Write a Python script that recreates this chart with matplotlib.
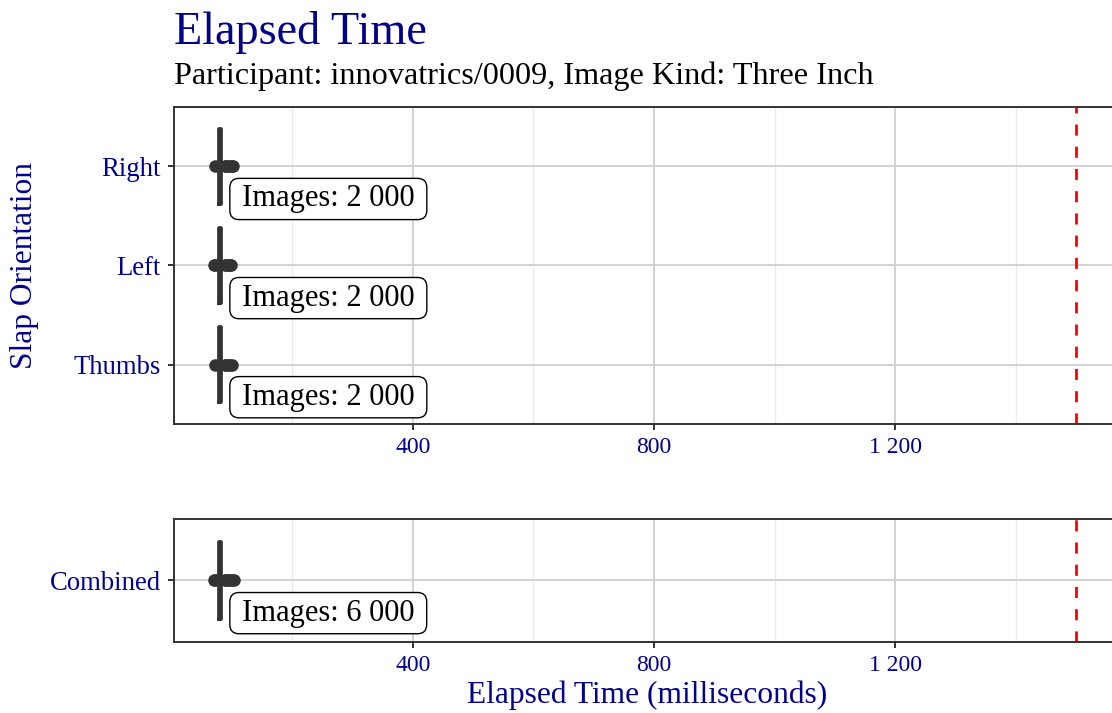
import numpy as np
import matplotlib.pyplot as plt
from matplotlib.ticker import FixedLocator, FuncFormatter

plt.rcParams['font.family'] = ['Liberation Serif', 'DejaVu Serif']

# data (milliseconds)
orientations = ['Thumbs', 'Left', 'Right']
image_counts = [2000, 2000, 2000]
q1 = [78.5, 78.5, 78.5]
medians = [80, 80, 80]
q3 = [81.5, 81.5, 81.5]
whisker_lo = [74, 74, 74]
whisker_hi = [86, 86, 86]
outliers = [
    [72, 88, 91, 94, 97, 100],      # Thumbs
    [70, 72, 88, 91, 94, 97, 99],   # Left
    [72, 88, 91, 94, 97, 100, 102], # Right
]

combined_label = ['Combined']
combined_count = [6000]
combined_q1 = [78.5]
combined_median = [80]
combined_q3 = [81.5]
combined_lo = [74]
combined_hi = [86]
combined_outliers = [[70, 72, 88, 91, 94, 97, 100, 103]]

threshold = 1500
major_ticks = [400, 800, 1200]
minor_ticks = [200, 600, 1000, 1400]

dark = '#333333'
blue = '#00008B'


def fmt_space(v, pos=None):
    return f'{int(v):,}'.replace(',', ' ')


def draw(ax, labels, counts, lo, a, m, b, hi, fl):
    pos = np.arange(1, len(labels) + 1)
    stats = []
    for i in range(len(labels)):
        stats.append(dict(whislo=lo[i], q1=a[i], med=m[i], q3=b[i],
                          whishi=hi[i], fliers=fl[i]))
    ax.bxp(stats, positions=pos, widths=0.75, orientation='horizontal',
           showcaps=False, patch_artist=False,
           boxprops=dict(color=dark, linewidth=2.7),
           whiskerprops=dict(color=dark, linewidth=2),
           medianprops=dict(color=dark, linewidth=2.7),
           flierprops=dict(marker='o', markerfacecolor=dark,
                           markeredgecolor=dark, markersize=8))
    for i in range(len(labels)):
        txt = '\u2009Images: ' + fmt_space(counts[i]) + '\u2009'
        ax.annotate(txt, xy=(m[i], pos[i]),
                    xytext=(11.6, -23.5), textcoords='offset points',
                    ha='left', va='center', fontsize=22, color='black',
                    bbox=dict(boxstyle='round,pad=0.2,rounding_size=0.3',
                              fc='white', ec='black', lw=1))
    ax.axvline(threshold, color='red', linestyle=(0, (4, 4)), lw=2)
    ax.set_xlim(4, 1573)
    ax.set_ylim(0.4, len(labels) + 0.6)
    ax.set_yticks(pos)
    ax.set_yticklabels(labels)
    ax.xaxis.set_major_locator(FixedLocator(major_ticks))
    ax.xaxis.set_minor_locator(FixedLocator(minor_ticks))
    ax.xaxis.set_major_formatter(FuncFormatter(fmt_space))
    ax.set_axisbelow(True)
    ax.grid(True, which='major', color='#d2d2d2', lw=1.4)
    ax.grid(True, which='minor', axis='x', color='#ebebeb', lw=1.0)
    ax.tick_params(axis='both', which='major', length=4.5, width=1.4,
                   color=dark, pad=5, labelcolor=blue)
    ax.tick_params(axis='x', labelsize=17)
    ax.tick_params(axis='y', labelsize=19.2)
    ax.tick_params(which='minor', length=0)
    for s in ax.spines.values():
        s.set_color(dark)
        s.set_linewidth(1.4)


fig = plt.figure(figsize=(11.12, 7.13), dpi=100)
ax1 = fig.add_axes([0.1565, 0.4053, 0.8507, 0.4448])
ax2 = fig.add_axes([0.1565, 0.0996, 0.8507, 0.1725])

draw(ax1, orientations, image_counts, whisker_lo, q1, medians, q3,
     whisker_hi, outliers)
draw(ax2, combined_label, combined_count, combined_lo, combined_q1,
     combined_median, combined_q3, combined_hi, combined_outliers)

fig.text(0.1565, 0.938, 'Elapsed Time', fontsize=33.3, color=blue,
         ha='left', va='baseline')
fig.text(0.1565, 0.882, 'Participant: innovatrics/0009, Image Kind: Three Inch',
         fontsize=23.2, color='black', ha='left', va='baseline')
fig.text(0.582, 0.0252, 'Elapsed Time (milliseconds)', fontsize=22.7,
         color=blue, ha='center', va='center')
fig.text(0.0216, 0.627, 'Slap Orientation', fontsize=22.6, color=blue,
         ha='center', va='center', rotation=90)

plt.savefig('out.png', dpi=100)
